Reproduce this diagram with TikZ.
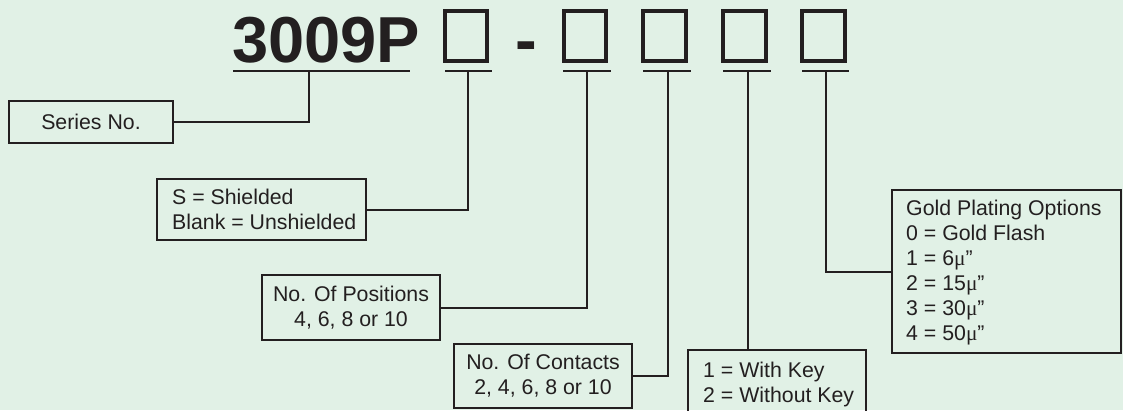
\documentclass[tikz,border=0pt]{standalone}
\usepackage{fontspec}
\setmainfont{Liberation Sans}
\newfontfamily\mufont{Liberation Serif}
\definecolor{bg}{RGB}{225,241,230}
\definecolor{ink}{RGB}{35,31,32}
\newcommand{\mU}{{\mufont μ}}
\begin{document}
\begin{tikzpicture}[x=1pt,y=-1pt,
  every node/.style={text=ink, font=\fontsize{21.3}{25}\selectfont},
  box/.style={draw=ink, line width=2pt, inner sep=0pt},
  lbl/.style={inner sep=0pt, align=left},
  sq/.style={draw=ink, line width=4pt, minimum width=42.5pt, minimum height=50pt, inner sep=0pt},
  rule/.style={draw=ink, line width=2pt},
  conn/.style={draw=ink, line width=2pt},
  big/.style={font=\fontsize{65}{70}\selectfont\bfseries, inner sep=0pt}
]
\clip (0,0) rectangle (1123,410);
\fill[bg] (0,0) rectangle (1123,410);

% part number
\node[big, anchor=base west] (code) at (232,62) {3009P};
\node[sq] (s1) at (466,36) {};
\node[big, anchor=base] (dash) at (526,62) {-};
\node[sq] (s2) at (585,36) {};
\node[sq] (s3) at (664.5,36) {};
\node[sq] (s4) at (744.5,36) {};
\node[sq] (s5) at (823.5,36) {};

% underlines
\draw[rule] (233,71) -- (410,71);
\draw[rule] (445,71) -- (492,71);
\draw[rule] (563,71) -- (611,71);
\draw[rule] (643,71) -- (691,71);
\draw[rule] (723,71) -- (771,71);
\draw[rule] (802,71) -- (849,71);

\coordinate (t0) at (309,71);
\coordinate (t1) at (468,71);
\coordinate (t2) at (587,71);
\coordinate (t3) at (668,71);
\coordinate (t4) at (748,71);
\coordinate (t5) at (826,71);

% boxes
\node[box, minimum width=164pt, minimum height=42pt] (series) at (91,122) {Series No.};

\node[box, minimum width=209pt, minimum height=61pt] (shield) at (261.5,209.5) {};
\node[lbl, anchor=west] (shieldtxt) at (172,209.5) {S = Shielded\\Blank = Unshielded};

\node[box, align=center, minimum width=178pt, minimum height=65pt] (positions) at (351,307.5) {No. Of Positions\\4, 6, 8 or 10};

\node[box, align=center, minimum width=178pt, minimum height=64pt] (contacts) at (543,376) {No. Of Contacts\\2, 4, 6, 8 or 10};

\node[box, minimum width=178pt, minimum height=69pt] (key) at (777,384.5) {};
\node[lbl, anchor=west] (keytxt) at (703,384) {1 = With Key\\2 = Without Key};

\node[box, minimum width=229pt, minimum height=163pt] (gold) at (1006.5,271.5) {};
\node[lbl, anchor=west] (goldtxt) at (906,273) {Gold Plating Options\\0 = Gold Flash\\1 = 6\mU”\\2 = 15\mU”\\3 = 30\mU”\\4 = 50\mU”};

% connectors
\draw[conn] (series.east) -| (t0);
\draw[conn] (shield.east) -| (t1);
\draw[conn] (positions.east) -| (t2);
\draw[conn] (contacts.east) -| (t3);
\draw[conn] (t4) -- (t4 |- key.north);
\draw[conn] (gold.west) -| (t5);
\end{tikzpicture}
\end{document}
